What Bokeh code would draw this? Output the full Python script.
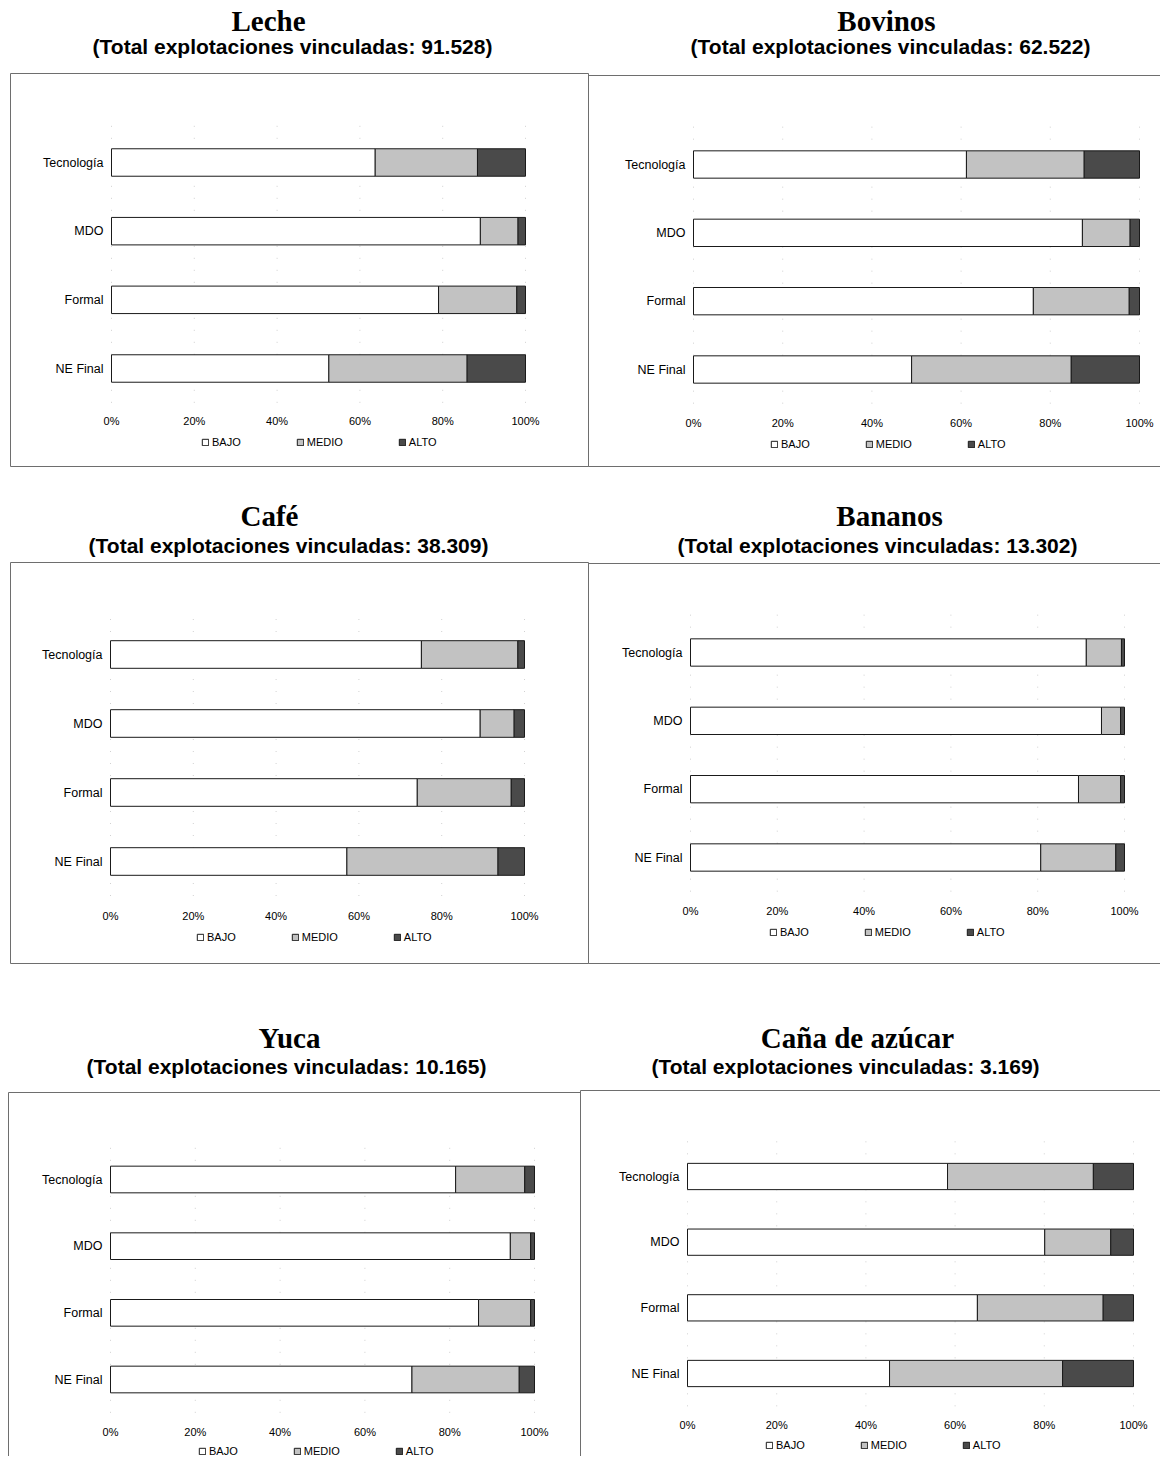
from bokeh.plotting import figure
from bokeh.models import (ColumnDataSource, Range1d, Legend, LegendItem)
from bokeh.core.properties import value
from bokeh.embed import file_html
from bokeh.resources import INLINE

# ---------------- data ----------------
categories = ["Tecnología", "MDO", "Formal", "NE Final"]
levels = ["BAJO", "MEDIO", "ALTO"]
x_ticks = [0, 20, 40, 60, 80, 100]
x_tick_labels = ["0%", "20%", "40%", "60%", "80%", "100%"]

products = ["Leche", "Bovinos", "Café", "Bananos", "Yuca", "Caña de azúcar"]
totals = ["91.528", "62.522", "38.309", "13.302", "10.165", "3.169"]

leche_bajo = [63.7, 89.1, 79.0, 52.5]
leche_medio = [24.7, 9.1, 18.9, 33.4]
leche_alto = [11.6, 1.8, 2.1, 14.1]

bovinos_bajo = [61.2, 87.2, 76.2, 48.9]
bovinos_medio = [26.4, 10.7, 21.5, 35.8]
bovinos_alto = [12.4, 2.1, 2.3, 15.3]

cafe_bajo = [75.1, 89.3, 74.1, 57.1]
cafe_medio = [23.3, 8.2, 22.7, 36.5]
cafe_alto = [1.6, 2.5, 3.2, 6.4]

bananos_bajo = [91.2, 94.7, 89.4, 80.7]
bananos_medio = [8.1, 4.4, 9.7, 17.3]
bananos_alto = [0.7, 0.9, 0.9, 2.0]

yuca_bajo = [81.4, 94.3, 86.8, 71.1]
yuca_medio = [16.3, 4.8, 12.3, 25.3]
yuca_alto = [2.3, 0.9, 0.9, 3.6]

cana_bajo = [58.3, 80.1, 65.0, 45.3]
cana_medio = [32.7, 14.8, 28.2, 38.8]
cana_alto = [9.0, 5.1, 6.8, 15.9]

series = [
    (leche_bajo, leche_medio, leche_alto),
    (bovinos_bajo, bovinos_medio, bovinos_alto),
    (cafe_bajo, cafe_medio, cafe_alto),
    (bananos_bajo, bananos_medio, bananos_alto),
    (yuca_bajo, yuca_medio, yuca_alto),
    (cana_bajo, cana_medio, cana_alto),
]

# ---------------- styles / layout (page pixels) ----------------
W, H = 1160, 1456
M = 0  # offset between reference pixels and canvas pixels
level_colors = ["#ffffff", "#c2c2c2", "#4a4a4a"]
SANS = "Liberation Sans"
SERIF = "Liberation Serif"

# x0/x100: pixel of 0% / 100%; c0/c3: centre of first / last bar;
# ty: tick label row; ly/lx: legend row / left; mt/st: title & subtitle (cx, cy)
# box: panel border (left, right, top, bottom)
panel_layout = [
    dict(x0=111, x100=525, c0=162, c3=368, ty=420, ly=441, lx=201,
         mt=(268, 20), st=(292, 46), box=(10, 588, 73, 466)),
    dict(x0=693, x100=1139, c0=164, c3=369, ty=422, ly=443, lx=770,
         mt=(886, 20), st=(890, 46), box=(588, 1190, 75, 466)),
    dict(x0=110, x100=524, c0=654, c3=861, ty=915, ly=936, lx=196,
         mt=(269, 515), st=(288, 545), box=(10, 588, 562, 963)),
    dict(x0=690, x100=1124, c0=652, c3=857, ty=910, ly=931, lx=769,
         mt=(889, 515), st=(877, 545), box=(588, 1190, 563, 963)),
    dict(x0=110, x100=534, c0=1179, c3=1379, ty=1431, ly=1450, lx=198,
         mt=(289, 1037), st=(286, 1066), box=(8, 580, 1092, 1490)),
    dict(x0=687, x100=1133, c0=1176, c3=1373, ty=1424, ly=1444, lx=765,
         mt=(857, 1037), st=(845, 1066), box=(580, 1190, 1090, 1490)),
]

p = figure(width=W, height=H, x_range=Range1d(0, W), y_range=Range1d(H, 0),
           x_axis_type=None, y_axis_type=None, output_backend="svg",
           toolbar_location=None, min_border=0)
p.outline_line_color = None
p.background_fill_color = "white"
p.border_fill_color = "white"

n = len(categories)
ys = [n - 1 - k for k in range(n)]

extra_x, extra_y = {}, {}
for i, L in enumerate(panel_layout):
    s = (L["x100"] - L["x0"]) / 100.0
    xs = -(L["x0"] - M) / s
    extra_x["x%d" % i] = Range1d(xs, xs + W / s)
    u = (L["c3"] - L["c0"]) / (n - 1)
    ye = (n - 1) + (L["c0"] - M) / u
    extra_y["y%d" % i] = Range1d(ye - H / u, ye)
p.extra_x_ranges = extra_x
p.extra_y_ranges = extra_y

for i, L in enumerate(panel_layout):
    xr, yr = "x%d" % i, "y%d" % i
    bajo, medio, alto = series[i]

    # panel border
    bl, br, bt, bb = L["box"]
    p.quad(left=[bl - M], right=[br - M], top=[bt - M], bottom=[bb - M],
           fill_color=None, line_color="#6e6e6e", line_width=1)

    # faint remnants of the vertical grid
    p.segment(x0=x_ticks, x1=x_ticks, y0=[-0.5] * len(x_ticks),
              y1=[n - 0.4] * len(x_ticks), x_range_name=xr, y_range_name=yr,
              line_color="#9a9a9a", line_alpha=0.45, line_dash="1 11")

    src = ColumnDataSource(dict(y=ys, BAJO=bajo, MEDIO=medio, ALTO=alto))
    rs = p.hbar_stack(levels, y="y", height=0.4, source=src,
                      fill_color=level_colors, line_color="#1a1a1a",
                      line_width=1, x_range_name=xr, y_range_name=yr)

    # category labels (y axis)
    p.text(x=[0] * n, y=ys, text=categories, x_range_name=xr, y_range_name=yr,
           x_offset=-8, text_align="right", text_baseline="middle",
           text_font=value(SANS), text_font_size=value("12.5px"),
           text_color="black")

    # percentage tick labels (x axis)
    p.text(x=x_ticks, y=[L["ty"] - M] * len(x_ticks), text=x_tick_labels,
           x_range_name=xr, text_align="center", text_baseline="middle",
           text_font=value(SANS), text_font_size=value("11px"),
           text_color="black")

    # titles
    p.text(x=[L["mt"][0] - M], y=[L["mt"][1] - M], text=[products[i]],
           text_align="center", text_baseline="middle",
           text_font=value(SERIF), text_font_size=value("29px"),
           text_font_style="bold", text_color="black")
    p.text(x=[L["st"][0] - M], y=[L["st"][1] - M],
           text=["(Total explotaciones vinculadas: %s)" % totals[i]],
           text_align="center", text_baseline="middle",
           text_font=value(SANS), text_font_size=value("21px"),
           text_font_style="bold", text_color="black")

    # legend
    legend = Legend(items=[LegendItem(label=lv, renderers=[r])
                           for lv, r in zip(levels, rs)],
                    location=(L["lx"] - M, H - (L["ly"] - M) - 6.5),
                    orientation="horizontal", glyph_width=8, glyph_height=8,
                    label_standoff=3, spacing=55, padding=0, margin=0,
                    label_height=12, label_text_font=SANS,
                    label_text_font_size="11px", label_text_color="black",
                    border_line_color=None, background_fill_alpha=0)
    p.add_layout(legend)

with open("out.html", "w", encoding="utf-8") as f:
    f.write(file_html(p, INLINE))
